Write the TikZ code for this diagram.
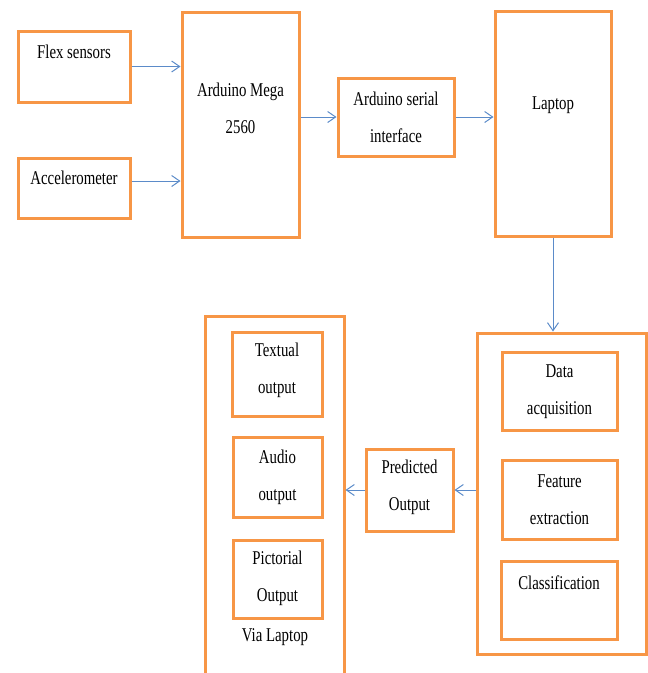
\documentclass[tikz,border=0pt]{standalone}
\usepackage{fontspec}
\setmainfont{Liberation Serif}[FakeStretch=0.76]
\usetikzlibrary{arrows.meta}
\definecolor{boxorange}{HTML}{F79646}
\definecolor{arrowblue}{HTML}{5B8BC9}
\begin{document}
\begin{tikzpicture}[x=1pt,y=-1pt,
  box/.style={draw=boxorange,line width=3pt,inner sep=0pt},
  txt/.style={font=\fontsize{19.5}{37}\selectfont,align=center,inner sep=0pt},
  flow/.style={draw=arrowblue,line width=1pt,-{Straight Barb[length=8pt,width=11pt]}}]
\clip (0,0) rectangle (648,673);
% sensors and arduino
\node[box,minimum width=112pt,minimum height=71pt] (flex) at (74,66.5){};
\node[txt] (flext) at (74,52){Flex sensors};
\node[box,minimum width=112pt,minimum height=60pt] (accel) at (74,188){};
\node[txt] (accelt) at (74,178){Accelerometer};
\node[box,minimum width=117pt,minimum height=225pt] (mega) at (240.5,124.5){};
\node[txt] (megat) at (240.5,108.5){Arduino Mega\\2560};
\node[box,minimum width=116pt,minimum height=78pt] (serial) at (396,117){};
\node[txt] (serialt) at (396,117.5){Arduino serial\\interface};
\node[box,minimum width=116pt,minimum height=225pt] (laptop) at (553,123.5){};
\node[txt] (laptopt) at (553,105){Laptop};
% processing on laptop
\node[box,minimum width=169pt,minimum height=321pt] (proc) at (561.5,493.5){};
\node[box,minimum width=115pt,minimum height=78pt] (acq) at (559.5,391){};
\node[txt] (acqt) at (559.5,391.5){Data\\acquisition};
\node[box,minimum width=115pt,minimum height=79pt] (feat) at (559.5,499.5){};
\node[txt] (featt) at (559.5,499.5){Feature\\extraction};
\node[box,minimum width=116pt,minimum height=78pt] (class) at (559,600){};
\node[txt] (classt) at (559,583){Classification};
\node[box,minimum width=87pt,minimum height=82pt] (pred) at (409.5,490){};
\node[txt] (predt) at (409.5,487){Predicted\\Output};
% outputs
\node[box,minimum width=139pt,minimum height=404pt] (outbox) at (274.5,518){};
\node[box,minimum width=90pt,minimum height=84pt] (textual) at (277,374){};
\node[txt] (textualt) at (277,370){Textual\\output};
\node[box,minimum width=89pt,minimum height=80pt] (audio) at (277.5,477){};
\node[txt] (audiot) at (277.5,477){Audio\\output};
\node[box,minimum width=89pt,minimum height=78pt] (pict) at (277.5,579){};
\node[txt] (pictt) at (277.5,578){Pictorial\\Output};
\node[txt] (via) at (275,637){Via Laptop};
% connectors
\draw[flow] (flex.east) -- (flex.east -| mega.west);
\draw[flow] ([yshift=7pt]accel.east) -- ([yshift=7pt]accel.east -| mega.west);
\draw[flow] (mega.east |- serial) -- (serial.west);
\draw[flow] (serial.east) -- (serial.east -| laptop.west);
\draw[flow] (laptop.south) -- (laptop.south |- proc.north);
\draw[flow] (proc.west |- pred) -- (pred.east);
\draw[flow] (pred.west) -- (pred.west -| outbox.east);
\end{tikzpicture}
\end{document}
